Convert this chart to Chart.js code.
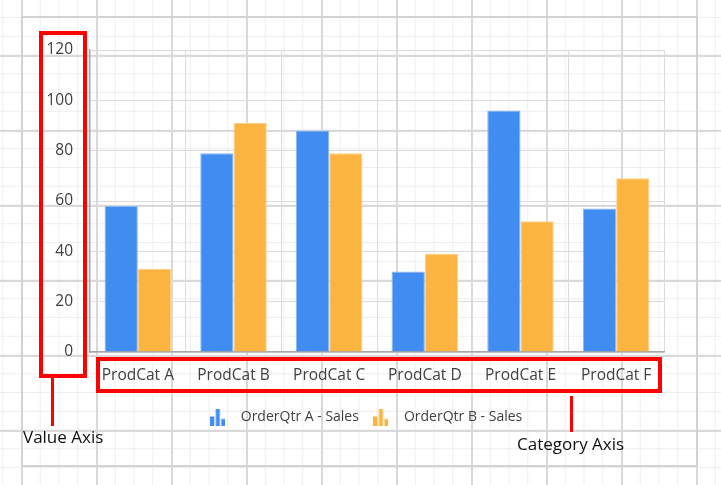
<!DOCTYPE html>
<html>
<head>
<meta charset="utf-8">
<script src="https://cdn.jsdelivr.net/npm/chart.js@4/dist/chart.umd.min.js"></script>
<style>
  html, body { margin: 0; padding: 0; }
  body {
    width: 721px; height: 485px; overflow: hidden; position: relative;
    background-color: #ffffff;
    background-image:
      linear-gradient(to right, #d9d9d9 2px, transparent 2px),
      linear-gradient(to bottom, #d9d9d9 2px, transparent 2px),
      linear-gradient(to right, #eeeeee 1px, transparent 1px),
      linear-gradient(to bottom, #eeeeee 1px, transparent 1px);
    background-size: 75px 75px, 75px 75px, 18.75px 18.75px, 18.75px 18.75px;
    background-position: 21px 0, 0 55px, 21px 0, 0 17px;
    font-family: "Open Sans", "Noto Sans", sans-serif;
  }
  #panel { position: absolute; left: 21px; top: 16px; width: 673px; height: 447px; border: 2px solid #d2d2d2; }
  #c { position: absolute; left: 0; top: 0; }
  .box { position: absolute; border: 4px solid #ff0000; box-sizing: border-box; }
  .vline { position: absolute; background: #ff0000; width: 3px; }
  .lbl { position: absolute; color: #111; font-size: 17px; white-space: nowrap; line-height: 20px; }
</style>
</head>
<body>
<div id="panel"></div>
<canvas id="c" width="721" height="485"></canvas>
<div class="box" style="left:39px; top:31px; width:48px; height:347px;"></div>
<div class="vline" style="left:51px; top:378px; height:48px;"></div>
<div class="lbl" style="left:23px; top:427px;">Value Axis</div>
<div class="box" style="left:96px; top:357px; width:566px; height:36px;"></div>
<div class="vline" style="left:570px; top:396px; height:36px;"></div>
<div class="lbl" style="left:517px; top:434px;">Category Axis</div>
<script>
const categories = ['ProdCat A', 'ProdCat B', 'ProdCat C', 'ProdCat D', 'ProdCat E', 'ProdCat F'];
const seriesAName = 'OrderQtr A - Sales';
const seriesBName = 'OrderQtr B - Sales';
const seriesA = [58, 79, 88, 32, 96, 57];
const seriesB = [33, 91, 79, 39, 52, 69];
const yMin = 0, yMax = 120, yStep = 20;

const colorA = '#418CF0';
const colorB = '#FCB441';

function barIcon(color) {
  const cv = document.createElement('canvas');
  cv.width = 15; cv.height = 17;
  const g = cv.getContext('2d');
  g.fillStyle = color;
  g.fillRect(0, 8, 4, 9);
  g.fillRect(5.5, 0, 4, 17);
  g.fillRect(11, 10.5, 4, 6.5);
  return cv;
}
const iconA = barIcon(colorA);
const iconB = barIcon(colorB);

const legendShift = {
  id: 'legendShift',
  afterLayout(chart) {
    const l = chart.legend;
    if (l) { l.left += 10; l.right += 10; }
  }
};

new Chart(document.getElementById('c'), {
  type: 'bar',
  data: {
    labels: categories,
    datasets: [
      { label: seriesAName, data: seriesA, backgroundColor: colorA, borderColor: '#86b6f5', borderWidth: 1, pointStyle: iconA },
      { label: seriesBName, data: seriesB, backgroundColor: colorB, borderColor: '#fdcf86', borderWidth: 1, pointStyle: iconB }
    ]
  },
  plugins: [legendShift],
  options: {
    responsive: false,
    animation: false,
    devicePixelRatio: 1,
    datasets: { bar: { barPercentage: 1, categoryPercentage: 0.695 } },
    layout: { padding: { left: 40, right: 57, top: 50, bottom: 51 } },
    plugins: {
      tooltip: { enabled: false },
      legend: {
        position: 'bottom',
        labels: {
          usePointStyle: true,
          pointStyleWidth: 32,
          padding: 6,
          color: '#404040',
          font: { family: '"Open Sans", sans-serif', size: 14 }
        }
      }
    },
    scales: {
      x: {
        afterFit: (s) => { s.height = 52; },
        grid: { color: '#dcdcdc', drawTicks: false, offset: true },
        border: { color: '#a6a6a6', width: 1.5 },
        ticks: { color: '#404040', padding: 14, font: { family: '"Open Sans", sans-serif', size: 15.5 } }
      },
      y: {
        min: yMin, max: yMax,
        afterFit: (s) => { s.width = 50; },
        grid: { color: '#dcdcdc', drawTicks: false },
        border: { color: '#a6a6a6', width: 1.5 },
        ticks: { stepSize: yStep, color: '#404040', padding: 17, font: { family: '"Open Sans", sans-serif', size: 15.5 } }
      }
    }
  }
});
</script>
</body>
</html>
